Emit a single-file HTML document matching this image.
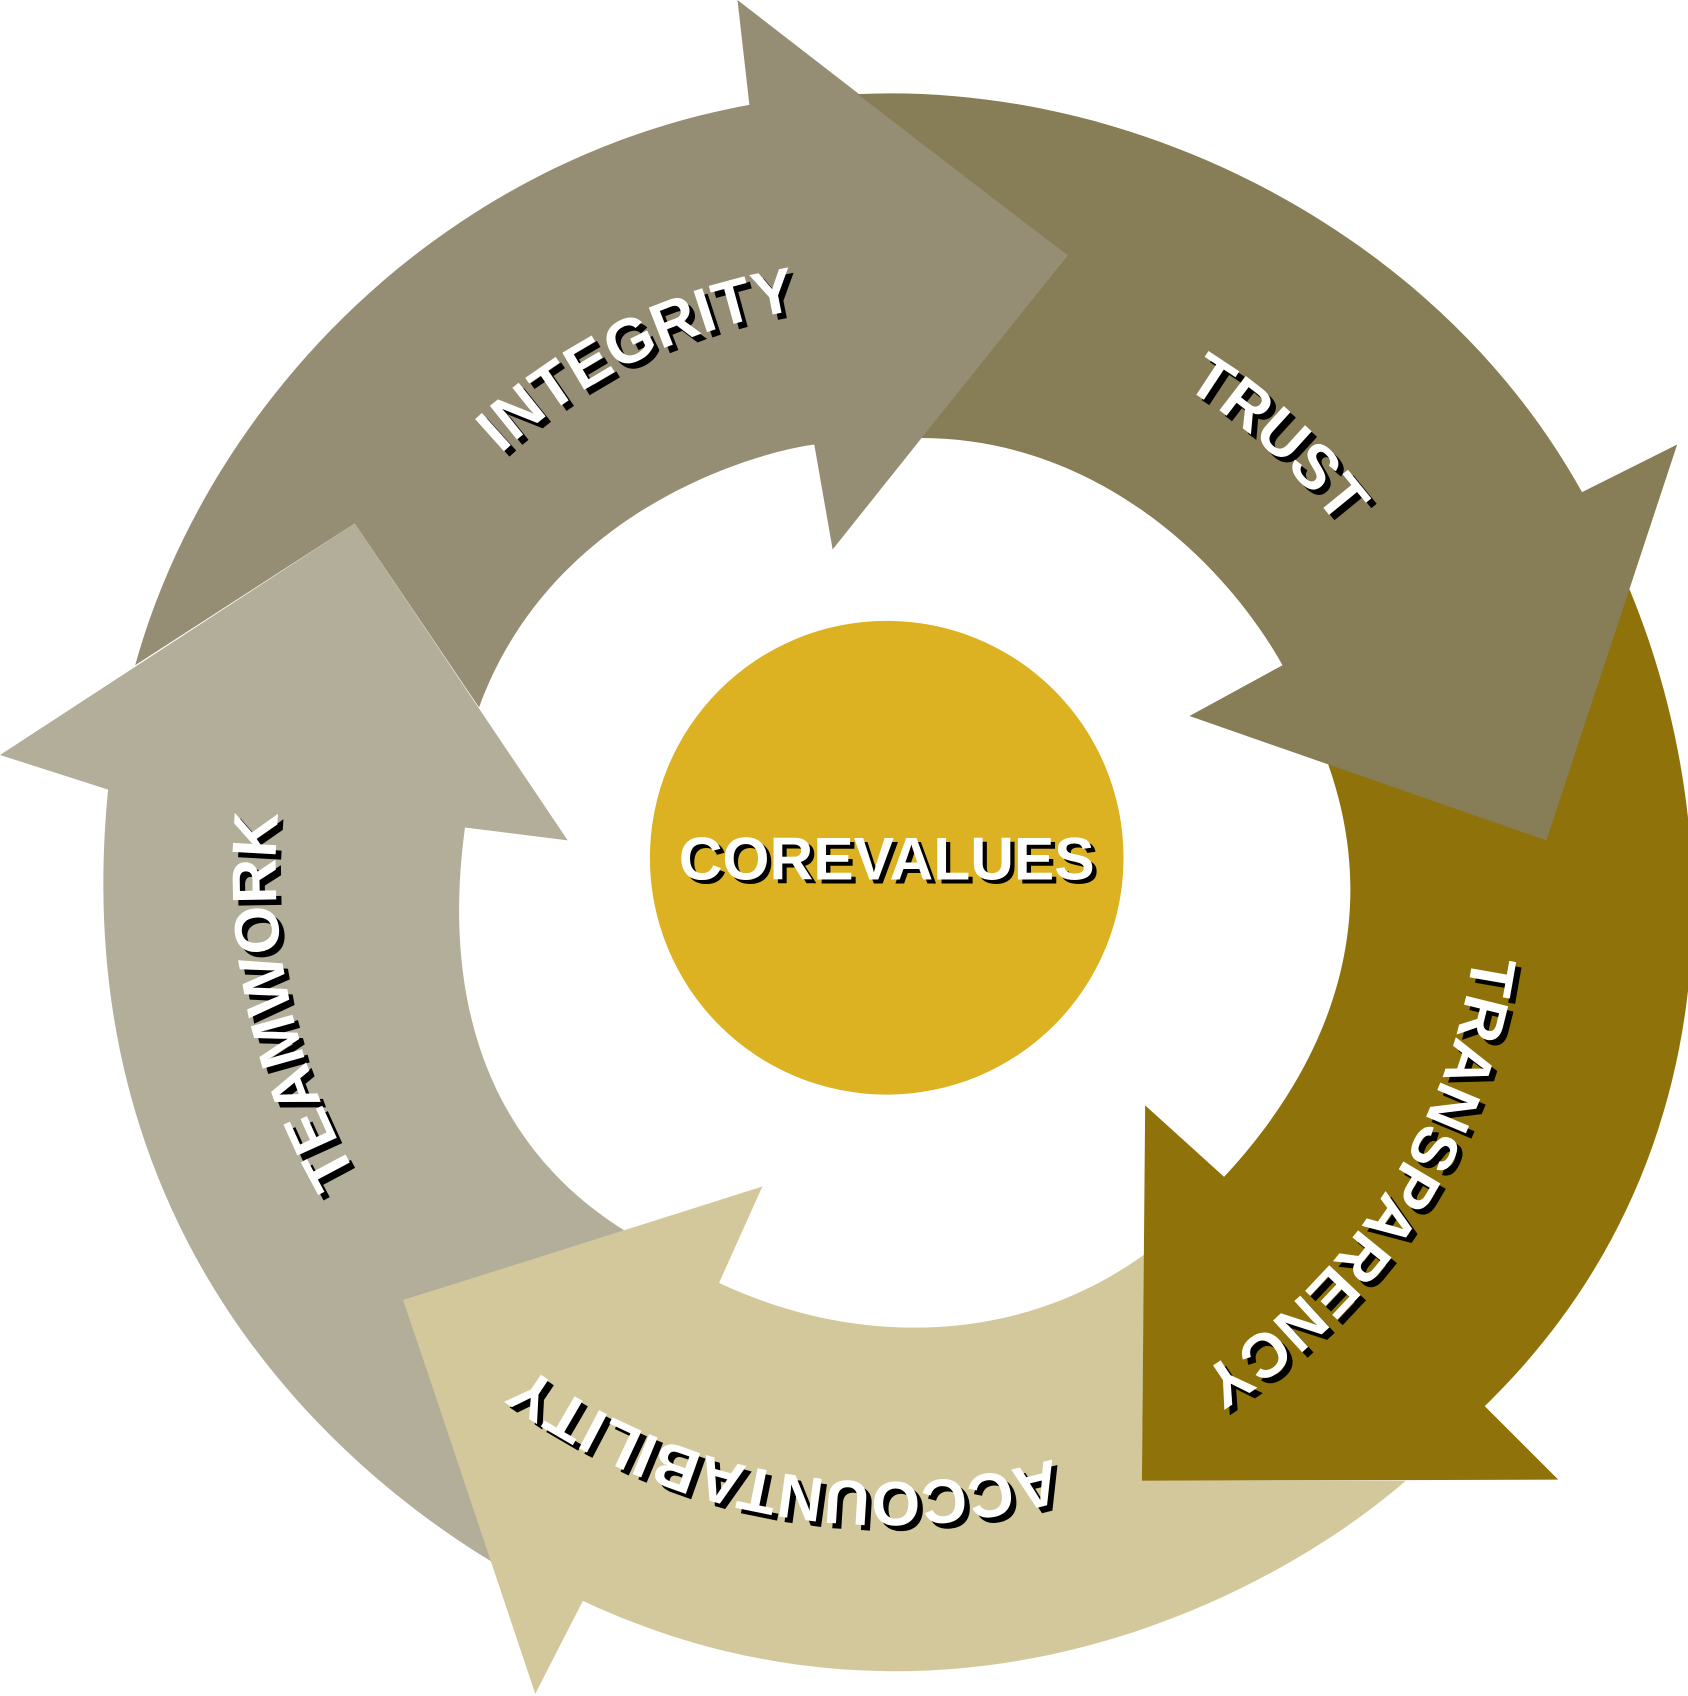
<!DOCTYPE html>
<html><head><meta charset="utf-8"><style>
html,body{margin:0;padding:0;background:#fff;}
svg{display:block;}
text{font-family:"Liberation Sans",sans-serif;font-weight:bold;}
</style></head><body>
<svg width="1688" height="1696" viewBox="0 0 1561 1568" preserveAspectRatio="none" xmlns="http://www.w3.org/2000/svg">
<defs>
<path id="ring" d="M295,805 A525,525 0 1 1 1345,805 A525,525 0 1 1 295,805 A525,525 0 1 1 1345,805 A525,525 0 1 1 295,805"/>
<path id="ringB" d="M255,805 A565,565 0 1 1 1385,805 A565,565 0 1 1 255,805 A565,565 0 1 1 1385,805 A565,565 0 1 1 255,805"/>
<path id="ringC" d="M272,805 A548,548 0 1 1 1368,805 A548,548 0 1 1 272,805 A548,548 0 1 1 1368,805 A548,548 0 1 1 272,805"/>
</defs>
<rect width="1561" height="1568" fill="#fff"/>
<path d="M125,615 C 190,380 400,150 693,97 L682,0 L987,236 L770,508 L753,411 C 700,418 510,470 443,654 L328,484 Z" fill="#958e74"/>
<path d="M578,1138 L373,1202 L455,1444 C 300,1350 60,1130 100,730 L0,698 L328,484 L525,777 L430,765 C 420,840 405,1030 578,1138 Z" fill="#b3ae99"/>
<path d="M1058,1160 L1056,1369 L1300,1369 C 1160,1490 860,1630 539,1480 L495,1566 L373,1202 L705,1097 L665,1186 C 790,1245 940,1245 1058,1160 Z" fill="#d3c89b"/>
<path d="M1228,706 L1507,545 C 1600,770 1600,1080 1373,1300 L1441,1368 L1056,1369 L1059,1022 L1132,1088 C 1200,1015 1290,880 1228,706 Z" fill="#8f720a"/>
<path d="M793,87 C 1050,75 1330,215 1463,455 L1551,411 L1430,777 L1100,662 L1186,615 C 1130,515 1010,405 852,405 L987,236 Z" fill="#877d56"/>
<circle cx="820" cy="793" r="219" fill="#dcb122"/>

<g font-size="58" text-anchor="middle">
 <g transform="translate(5,5)" fill="#000">
  <text><textPath href="#ring" startOffset="8.9%">INTEGRITY</textPath></text>
  <text><textPath href="#ring" startOffset="18.35%">TRUST</textPath></text>
  <text><textPath href="#ringC" startOffset="29.6%">TRANSPARENCY</textPath></text>
  <text><textPath href="#ringB" startOffset="38.9%">ACCOUNTABILITY</textPath></text>
  <text><textPath href="#ringB" startOffset="48.3%">TEAMWORK</textPath></text>
  <text x="819" y="812" font-size="56">COREVALUES</text>
 </g>
 <g fill="#fff">
  <text><textPath href="#ring" startOffset="8.9%">INTEGRITY</textPath></text>
  <text><textPath href="#ring" startOffset="18.35%">TRUST</textPath></text>
  <text><textPath href="#ringC" startOffset="29.6%">TRANSPARENCY</textPath></text>
  <text><textPath href="#ringB" startOffset="38.9%">ACCOUNTABILITY</textPath></text>
  <text><textPath href="#ringB" startOffset="48.3%">TEAMWORK</textPath></text>
  <text x="820" y="813" font-size="56">COREVALUES</text>
 </g>
</g>
</svg>
</body></html>
